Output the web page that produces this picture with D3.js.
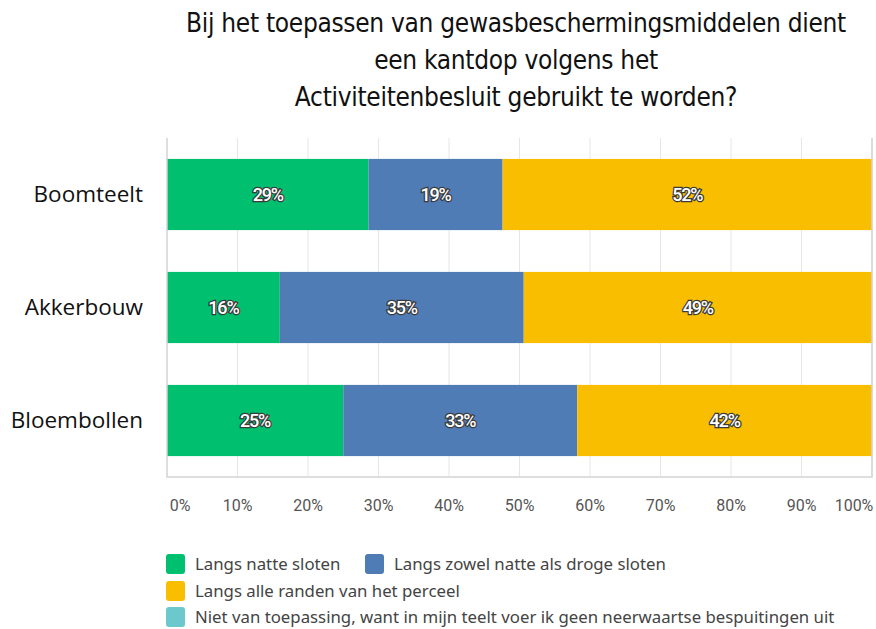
<!doctype html>
<html lang="nl">
<head>
<meta charset="UTF-8" />
<title>Kantdop</title>
<script src="https://cdn.jsdelivr.net/npm/d3@7"></script>
<style>
  body { margin: 0; background: #fff; }
</style>
</head>
<body>
<svg id="chart" width="876" height="629"></svg>
<script>
// data
const categories = ["Boomteelt", "Akkerbouw", "Bloembollen"];
const seriesNames = [
  "Langs natte sloten",
  "Langs zowel natte als droge sloten",
  "Langs alle randen van het perceel",
  "Niet van toepassing, want in mijn teelt voer ik geen neerwaartse bespuitingen uit"
];
const natteSloten = [28.6, 16.0, 25.0];
const natteEnDroge = [19.0, 34.6, 33.2];
const alleRanden = [52.4, 49.4, 41.8];
const nietVanToepassing = [0, 0, 0];
const ticks = [0, 10, 20, 30, 40, 50, 60, 70, 80, 90, 100];
const titleLines = [
  "Bij het toepassen van gewasbeschermingsmiddelen dient",
  "een kantdop volgens het",
  "Activiteitenbesluit gebruikt te worden?"
];
const colors = ["#00bf6f", "#507cb6", "#f9be00", "#6bc8cd"];

const svg = d3.select("#chart");
const m = {left: 167, right: 872, top: 138, bottom: 477};

const x = d3.scaleLinear().domain([0, 100]).range([m.left, m.right]);
const y = d3.scaleBand().domain(categories).range([m.top, m.bottom])
  .paddingInner(0.37).paddingOuter(0.185);

// title
svg.append("g").selectAll("text").data(titleLines).join("text")
  .attr("x", 516).attr("y", (d, i) => 32 + i * 37)
  .attr("text-anchor", "middle")
  .style("font-family", "'Liberation Sans Narrow', 'DejaVu Sans Condensed', sans-serif")
  .style("font-size", "26px").style("fill", "#111")
  .style("letter-spacing", "-0.3px")
  .text(d => d);

// grid
svg.append("g").selectAll("line").data(ticks.slice(1)).join("line")
  .attr("x1", d => x(d)).attr("x2", d => x(d))
  .attr("y1", m.top).attr("y2", m.bottom)
  .attr("stroke", "#e6e6e6").attr("stroke-width", 1);

// stacked data
const rows = categories.map((c, i) => ({
  cat: c, s0: natteSloten[i], s1: natteEnDroge[i], s2: alleRanden[i], s3: nietVanToepassing[i]
}));
const stack = d3.stack().keys(["s0", "s1", "s2", "s3"])(rows);

const layers = svg.append("g").selectAll("g").data(stack).join("g")
  .attr("fill", (d, i) => colors[i]);
layers.selectAll("rect").data(d => d).join("rect")
  .attr("x", d => x(d[0]))
  .attr("width", d => x(d[1]) - x(d[0]))
  .attr("y", d => y(d.data.cat))
  .attr("height", y.bandwidth());

// value labels
layers.selectAll("text").data(d => d.filter(v => v[1] - v[0] > 0)).join("text")
  .attr("x", d => (x(d[0]) + x(d[1])) / 2)
  .attr("y", d => y(d.data.cat) + y.bandwidth() / 2)
  .attr("dy", "0.35em")
  .attr("text-anchor", "middle")
  .style("font-family", "Roboto, sans-serif")
  .style("font-size", "18px")
  .style("font-weight", "500")
  .style("fill", "#fff")
  .style("stroke", "#3a3a3a")
  .style("stroke-width", 2.5)
  .style("paint-order", "stroke")
  .style("letter-spacing", "-1.2px")
  .text(d => Math.round(d[1] - d[0]) + "%");

// plot frame (left, bottom, right)
svg.append("path")
  .attr("d", `M${m.left},${m.top}V${m.bottom}H${m.right}V${m.top}`)
  .attr("fill", "none").attr("stroke", "#d4d4d4").attr("stroke-width", 1.5);

// category labels
svg.append("g").selectAll("text").data(categories).join("text")
  .attr("x", m.left - 24)
  .attr("y", d => y(d) + y.bandwidth() / 2)
  .attr("dy", "0.35em")
  .attr("text-anchor", "end")
  .style("font-family", "'Open Sans', sans-serif")
  .style("font-size", "22.5px").style("fill", "#111")
  .text(d => d);

// x tick labels
svg.append("g").selectAll("text").data(ticks).join("text")
  .attr("x", d => d === 0 ? x(d) + 13 : d === 100 ? x(d) - 18 : x(d))
  .attr("y", 505)
  .attr("dy", "0.35em")
  .attr("text-anchor", "middle")
  .style("font-family", "Roboto, sans-serif")
  .style("font-size", "16px").style("fill", "#555")
  .text(d => d + "%");

// legend
const legendPos = [[166, 564], [365, 564], [166, 591], [166, 617]];
const lg = svg.append("g").selectAll("g").data(seriesNames).join("g")
  .attr("transform", (d, i) => `translate(${legendPos[i][0]},${legendPos[i][1]})`);
lg.append("rect")
  .attr("x", 0).attr("y", -10).attr("width", 19).attr("height", 20).attr("rx", 3)
  .attr("fill", (d, i) => colors[i]);
lg.append("text")
  .attr("x", 29).attr("dy", "0.35em")
  .style("font-family", "'Noto Sans', sans-serif")
  .style("font-size", "16.8px").style("fill", "#444")
  .text(d => d);
</script>
</body>
</html>
